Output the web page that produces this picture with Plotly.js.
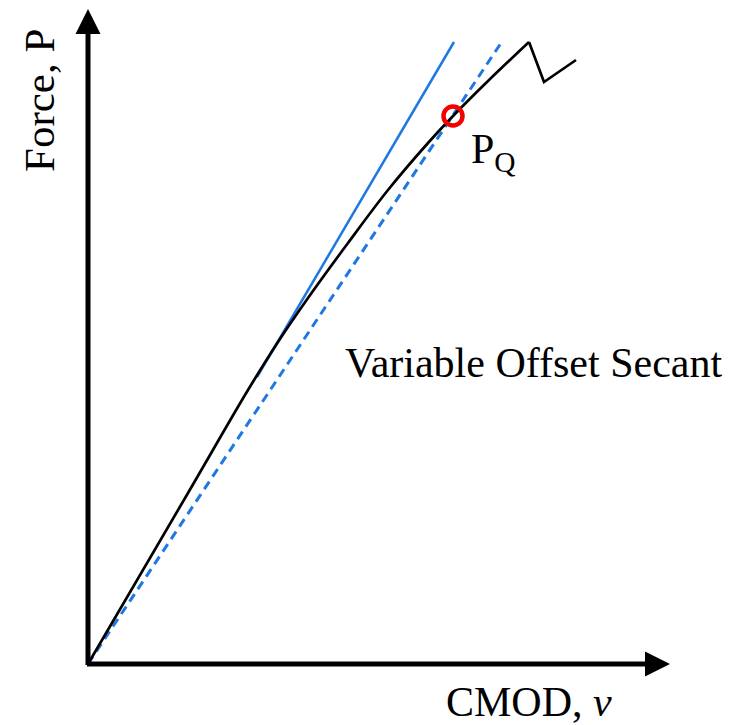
<!DOCTYPE html>
<html>
<head>
<meta charset="utf-8">
<script src="https://cdn.plot.ly/plotly-3.0.1.min.js"></script>
<style>html,body{margin:0;padding:0;background:#fff;}#chart{width:740px;height:725px;}</style>
</head>
<body>
<div id="chart"></div>
<script>
// Force vs CMOD record (arbitrary units)
const cmod  = [0, 100, 160, 190, 220, 260, 300, 340, 365, 400, 441, 456, 488];
const force = [0, 171, 274, 322, 366, 421, 474, 521, 548, 583, 622, 582, 604];
// initial tangent (elastic slope)
const tangentX = [169, 366];
const tangentY = [287, 622];
// variable offset secant
const secantX = [0, 413];
const secantY = [0, 621];
// P_Q point
const pqX = [365];
const pqY = [548];

const serif = "Liberation Serif";
const blue = "rgb(30,120,225)";

// index of the peak: smooth loading part up to it, straight segments after
const peak = force.indexOf(Math.max(...force));
const PW = 652, PH = 664;  // plot area size in px (axis units = px)

const traces = [
  {x: tangentX, y: tangentY, mode: "lines", line: {color: blue, width: 2.5}, cliponaxis: false, hoverinfo: "skip"},
  {x: secantX, y: secantY, mode: "lines", line: {color: blue, width: 3, dash: "9px,6px"}, cliponaxis: false, hoverinfo: "skip"},
  {x: cmod.slice(0, peak + 1), y: force.slice(0, peak + 1), mode: "lines", line: {color: "black", width: 2.7, shape: "spline", smoothing: 1}, cliponaxis: false, hoverinfo: "skip"},
  {x: cmod.slice(peak), y: force.slice(peak), mode: "lines", line: {color: "black", width: 2.7}, cliponaxis: false, hoverinfo: "skip"},
  {x: pqX, y: pqY, mode: "markers", marker: {symbol: "circle-open", size: 19, color: "rgb(245,0,0)", line: {width: 4.5, color: "rgb(245,0,0)"}}, cliponaxis: false, hoverinfo: "skip"}
];

const px = v => (v - 88) / PW;
const py = v => (664 - v) / PH;

const layout = {
  width: 740, height: 725,
  margin: {l: 88, r: 0, t: 0, b: 61},
  paper_bgcolor: "white", plot_bgcolor: "white",
  showlegend: false,
  font: {family: serif},
  xaxis: {range: [0, PW], showgrid: false, zeroline: false, showticklabels: false, ticks: "", showline: false, fixedrange: true},
  yaxis: {range: [0, PH], showgrid: false, zeroline: false, showticklabels: false, ticks: "", showline: false, fixedrange: true},
  annotations: [
    {x: 582, y: 0, ax: -2.5, ay: 0, xref: "x", yref: "y", axref: "x", ayref: "y", showarrow: true, arrowhead: 2, arrowsize: 1, arrowwidth: 5, arrowcolor: "black", text: "", standoff: 0},
    {x: 0, y: 655, ax: 0, ay: -2.5, xref: "x", yref: "y", axref: "x", ayref: "y", showarrow: true, arrowhead: 2, arrowsize: 1, arrowwidth: 5, arrowcolor: "black", text: "", standoff: 0},
    {x: px(39), y: py(101), xref: "paper", yref: "paper", xanchor: "center", yanchor: "middle", showarrow: false, textangle: -90, text: "Force, P", font: {family: serif, size: 43, color: "black"}},
    {x: px(529), y: py(702), xref: "paper", yref: "paper", xanchor: "center", yanchor: "middle", showarrow: false, text: "CMOD, <i>v</i>", font: {family: serif, size: 42, color: "black"}},
    {x: px(533), y: py(363), xref: "paper", yref: "paper", xanchor: "center", yanchor: "middle", showarrow: false, text: "Variable Offset Secant", font: {family: serif, size: 42, color: "black"}},
    {x: px(469), y: py(152), xref: "paper", yref: "paper", xanchor: "left", yanchor: "middle", showarrow: false, text: "P<sub>Q</sub>", font: {family: serif, size: 42, color: "black"}}
  ]
};

Plotly.newPlot("chart", traces, layout, {staticPlot: true, displayModeBar: false});
</script>
</body>
</html>
